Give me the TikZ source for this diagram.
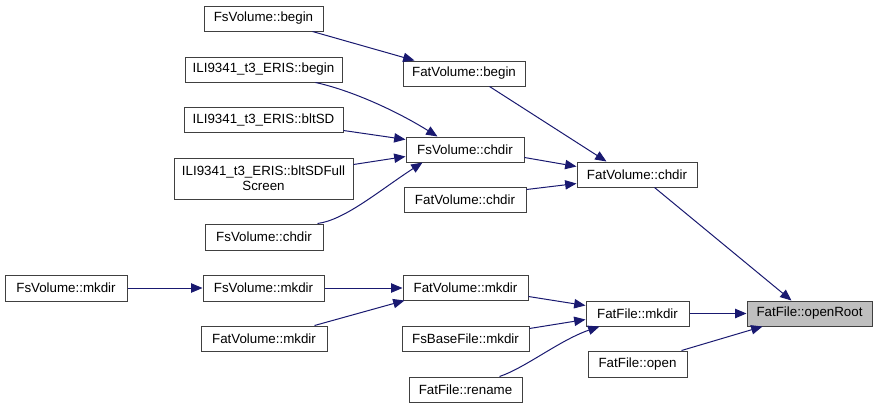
\documentclass[tikz,border=0pt]{standalone}
\usepackage{fontspec}
\setmainfont{Liberation Sans}
\usetikzlibrary{arrows.meta,calc}
\definecolor{edgecol}{HTML}{191970}
\definecolor{boxline}{HTML}{404040}
\definecolor{rootfill}{HTML}{BFBFBF}
\newcommand\mybox[7][]{\node[box,#1,minimum width={(#5-#3)*0.75pt},minimum height={(#6-#4)*0.75pt}] (#2) at ({(#3+#5)/2},{(#4+#6)/2}) {#7};}
\begin{document}
\begin{tikzpicture}[x=0.75pt,y=-0.75pt,
  box/.style={draw=boxline,fill=white,line width=0.75pt,inner sep=0pt,align=center,
    font=\fontsize{10}{11}\selectfont},
  rootbox/.style={fill=rootfill},
  conn/.style={draw=edgecol,line width=0.75pt,-{Triangle[length=8.5pt,width=7pt]}}]
\useasboundingbox (0,0) rectangle (877,408);
\mybox{fsb}{204}{6}{323}{31}{FsVolume::begin}
\mybox{fvb}{403}{61}{525}{86}{FatVolume::begin}
\mybox{ilib}{185}{57}{342}{82}{ILI9341\_t3\_ERIS::begin}
\mybox{ilis}{184}{107}{343}{132}{ILI9341\_t3\_ERIS::bltSD}
\mybox{ilif}{174}{158}{353}{199}{ILI9341\_t3\_ERIS::bltSDFull\\Screen}
\mybox{fsc}{406}{137}{524}{162}{FsVolume::chdir}
\mybox{fsc2}{205}{224}{323}{250}{FsVolume::chdir}
\mybox{fvc}{577}{162}{697}{187}{FatVolume::chdir}
\mybox{fvc2}{404}{187}{526}{212}{FatVolume::chdir}
\mybox{fsm1}{5}{275}{127}{301}{FsVolume::mkdir}
\mybox{fsm2}{203}{275}{324}{301}{FsVolume::mkdir}
\mybox{fvm}{403}{275}{528}{300}{FatVolume::mkdir}
\mybox{fvm2}{201}{326}{327}{351}{FatVolume::mkdir}
\mybox{fbm}{402}{326}{529}{351}{FsBaseFile::mkdir}
\mybox{ffr}{409}{377}{522}{402}{FatFile::rename}
\mybox{ffm}{586}{301}{689}{326}{FatFile::mkdir}
\mybox{ffo}{588}{351}{687}{377}{FatFile::open}
\mybox[rootbox]{root}{747}{301}{872}{326}{FatFile::openRoot}
% connectors
\draw[conn] ($(fsb.south west)+(109,0)$) -- ($(fvb.north west)+(12,0)$);
\draw[conn] ($(fvb.south west)+(87,0)$) -- ($(fvc.north west)+(30,0)$);
\draw[conn] ($(ilib.south west)+(131,0)$) .. controls (350,90) and (395,110) .. ($(fsc.north west)+(32,0)$);
\draw[conn] ($(ilis.north east)+(0,24)$) -- ($(fsc.north west)+(0,3)$);
\draw[conn] ($(ilif.north east)+(0,7)$) -- ($(fsc.north west)+(0,20)$);
\draw[conn] ($(fsc2.north west)+(113,0)$) .. controls (345,220) and (380,190) .. ($(fsc.south west)+(17,0)$);
\draw[conn] ($(fsc.north east)+(0,21)$) -- ($(fvc.north west)+(0,5)$);
\draw[conn] ($(fvc2.north east)+(0,3)$) -- ($(fvc.north west)+(0,22)$);
\draw[conn] ($(fvc.south west)+(78,0)$) -- ($(root.north west)+(45,0)$);
\draw[conn] (fsm1.east) -- (fsm2.west);
\draw[conn] (fsm2.east) -- (fsm2.east -| fvm.west);
\draw[conn] ($(fvm2.north west)+(114,0)$) -- ($(fvm.south west)+(2,0)$);
\draw[conn] ($(fvm.north east)+(0,22)$) -- ($(ffm.north west)+(0,5)$);
\draw[conn] ($(fbm.north east)+(0,3)$) -- ($(ffm.north west)+(0,19)$);
\draw[conn] ($(ffr.north west)+(91,0)$) .. controls (525,368) and (560,340) .. ($(ffm.south west)+(14,0)$);
\draw[conn] (ffm.east) -- (root.west);
\draw[conn] ($(ffo.north west)+(94,0)$) -- ($(root.south west)+(16,0)$);
\end{tikzpicture}
\end{document}
